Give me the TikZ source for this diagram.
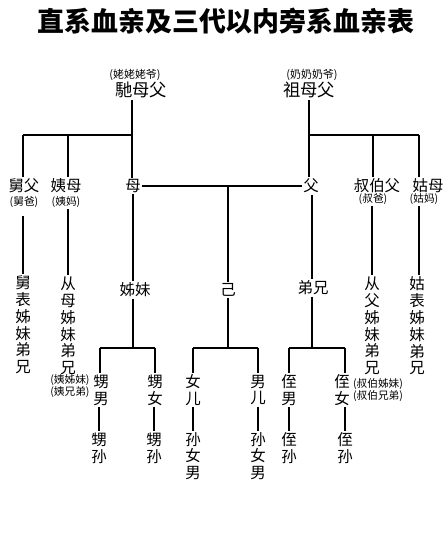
\documentclass[tikz,border=0pt]{standalone}
\usepackage{fontspec}
\newfontfamily\cjk{Noto Sans CJK SC}
\begin{document}
\begin{tikzpicture}[x=0.75pt,y=-0.75pt,
  ln/.style={line width=1.4pt},
  lab/.style={font=\cjk\fontsize{11.6}{12.6}\selectfont, inner sep=1pt, align=center},
  toplab/.style={font=\cjk\fontsize{13}{14}\selectfont, inner sep=1pt},
  ann/.style={font=\cjk\fontsize{8}{8}\selectfont, inner sep=1pt, align=center},
  topann/.style={font=\cjk\fontsize{8.2}{8.5}\selectfont, inner sep=1pt}]
\useasboundingbox (0,0) rectangle (446,533);
\fill[white] (0,0) rectangle (446,533);
% title
\node[font=\cjk\bfseries\fontsize{20.2}{21}\selectfont, inner sep=0pt] (title) at (226,21) {直系血亲及三代以内旁系血亲表};
% top generation
\node[topann] (wza) at (135,75) {(姥姥姥爷)};
\node[toplab] (wz) at (141,90) {馳母父};
\node[topann] (zua) at (312,75) {(奶奶奶爷)};
\node[toplab] (zu) at (309,90) {祖母父};
% parent generation
\node[lab] (jiufu) at (24,186) {舅父};
\node[ann] (jiufua) at (24,202) {(舅爸)};
\node[lab] (yimu) at (66,186) {姨母};
\node[ann] (yimua) at (66,202) {(姨妈)};
\node[lab] (mu) at (133,186) {母};
\node[lab] (fu) at (311,186) {父};
\node[lab] (shubo) at (377,186) {叔伯父};
\node[ann] (shuboa) at (373,199) {(叔爸)};
\node[lab] (gumu) at (428,186) {姑母};
\node[ann] (gumua) at (424,199) {(姑妈)};
% junctions
\coordinate (hL) at (23,135);
\coordinate (hL2) at (68,135);
\coordinate (hM) at (132,135);
\coordinate (hR) at (309,135);
\coordinate (hR2) at (373,135);
\coordinate (hR3) at (419,135);
\coordinate (jiV) at (228,186);
% own generation
\node[lab] (c1) at (23,325) {舅\\表\\姊\\妹\\弟\\兄};
\node[lab] (c2) at (68,326) {从\\母\\姊\\妹\\弟\\兄};
\node[lab] (zimei) at (135,290) {姊妹};
\node[lab] (ji) at (228,290) {己};
\node[lab] (dixiong) at (313,288) {弟兄};
\node[lab] (c5) at (372,326) {从\\父\\姊\\妹\\弟\\兄};
\node[lab] (c6) at (417,326) {姑\\表\\姊\\妹\\弟\\兄};
\node[ann] (c2a) at (70,386) {(姨姊妹)\\(姨兄弟)};
\node[ann] (c5a) at (378,390) {(叔伯姊妹)\\(叔伯兄弟)};
% children junctions
\coordinate (zm) at (133,348);
\coordinate (zl) at (100,348);
\coordinate (zr) at (155,348);
\coordinate (jm) at (228,348);
\coordinate (jl) at (193,348);
\coordinate (jr) at (258,348);
\coordinate (dm) at (312,348);
\coordinate (dl) at (289,348);
\coordinate (dr) at (345,348);
% children
\node[lab] (sn) at (101,390) {甥\\男};
\node[lab] (sv) at (155,390) {甥\\女};
\node[lab] (ne) at (193,390) {女\\儿};
\node[lab] (me) at (258,390) {男\\儿};
\node[lab] (zn) at (289,390) {侄\\男};
\node[lab] (zv) at (342,390) {侄\\女};
% grandchildren
\node[lab] (sns) at (99,448) {甥\\孙};
\node[lab] (svs) at (154,448) {甥\\孙};
\node[lab] (nes) at (193,456) {孙\\女\\男};
\node[lab] (mes) at (258,456) {孙\\女\\男};
\node[lab] (zns) at (289,448) {侄\\孙};
\node[lab] (zvs) at (345,448) {侄\\孙};
% connectors: top
\draw[ln] (wz.south -| hM) -- (mu.north -| hM);
\draw[ln] (hL) -- (hM);
\draw[ln] (hL) -- (jiufu.north -| hL);
\draw[ln] (hL2) -- (yimu.north -| hL2);
\draw[ln] (zu.south -| hR) -- (fu.north -| hR);
\draw[ln] (hR) -- (hR3);
\draw[ln] (hR2) -- (shubo.north -| hR2);
\draw[ln] (hR3) -- (gumu.north -| hR3);
\draw[ln] (mu.east) -- (fu.west);
\draw[ln] (jiV) -- (ji.north -| jiV);
% connectors: to own generation
\draw[ln, shorten <=5pt] (jiufua.south -| c1) -- (c1.north);
\draw[ln] (yimua.south -| c2) -- (c2.north);
\draw[ln] (mu.south) -- (zimei.north -| mu);
\draw[ln] (shuboa.south -| c5) -- (c5.north);
\draw[ln] (gumua.south -| hR3) -- (c6.north -| hR3);
\draw[ln] (fu.south -| dm) -- (dixiong.north -| dm);
% connectors: to children
\draw[ln] (zimei.south -| zm) -- (zm);
\draw[ln] (zl) -- (zr);
\draw[ln] (zl) -- (sn.north -| zl);
\draw[ln] (zr) -- (sv.north -| zr);
\draw[ln] (ji.south) -- (jm);
\draw[ln] (jl) -- (jr);
\draw[ln] (jl) -- (ne.north -| jl);
\draw[ln] (jr) -- (me.north -| jr);
\draw[ln] (dixiong.south -| dm) -- (dm);
\draw[ln] (dl) -- (dr);
\draw[ln] (dl) -- (zn.north -| dl);
\draw[ln] (dr) -- (zv.north -| dr);
% connectors: to grandchildren
\draw[ln] (sn.south -| sns) -- (sns.north);
\draw[ln] (sv.south -| svs) -- (svs.north);
\draw[ln] (ne.south) -- (nes.north);
\draw[ln] (me.south) -- (mes.north);
\draw[ln] (zn.south) -- (zns.north);
\draw[ln] (zv.south -| zvs) -- (zvs.north);
\end{tikzpicture}
\end{document}
